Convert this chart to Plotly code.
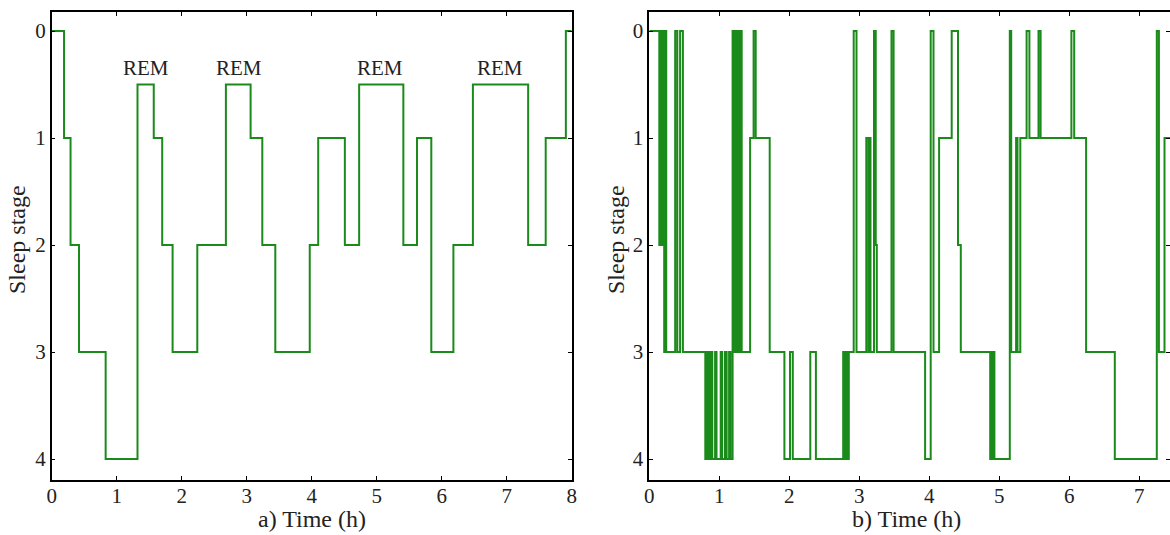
import plotly.graph_objects as go

# ---------------- data ----------------
# Panel a) : transition times (h) and stage entered at that time (REM drawn at 0.5)
a_time = [0, 0.19, 0.29, 0.42, 0.83, 1.32, 1.57, 1.70, 1.86, 2.24, 2.68, 3.06, 3.24, 3.44,
          3.97, 4.10, 4.51, 4.73, 5.41, 5.62, 5.84, 6.18, 6.48, 7.33, 7.60, 7.91, 8.0]
a_stage = [0, 1, 2, 3, 4, 0.5, 1, 2, 3, 2, 0.5, 1, 2, 3,
           2, 1, 2, 0.5, 2, 1, 3, 2, 0.5, 2, 1, 0, 0]

rem_time = [1.45, 2.88, 5.05, 6.90]
rem_label = ["REM", "REM", "REM", "REM"]

# Panel b) : transition times (h) and stage entered
b_time = [0, 0.143, 0.150, 0.157, 0.164, 0.171, 0.178, 0.185, 0.192, 0.199, 0.206,
          0.213, 0.220, 0.228, 0.235, 0.242,
          0.37, 0.40, 0.44, 0.48,
          0.80, 0.81, 0.82, 0.83, 0.84, 0.85, 0.86, 0.87, 0.88, 0.89, 0.90,
          0.94, 0.96, 1.02, 1.04, 1.08, 1.105, 1.14, 1.16,
          1.19, 1.20, 1.205, 1.215, 1.22, 1.23, 1.235, 1.245, 1.25, 1.255, 1.265, 1.275,
          1.28, 1.29, 1.30, 1.32,
          1.44, 1.49, 1.52, 1.72, 1.93, 2.01, 2.05, 2.30, 2.38,
          2.77, 2.78, 2.79, 2.80, 2.81, 2.82, 2.83, 2.84, 2.85,
          2.92, 2.96, 3.10, 3.13, 3.14, 3.16, 3.21, 3.235, 3.25,
          3.46, 3.49, 3.94, 4.02, 4.06, 4.14, 4.32, 4.41, 4.45,
          4.87, 4.88, 4.89, 4.90, 4.91, 4.92, 4.93,
          5.15, 5.17, 5.24, 5.26, 5.30,
          5.39, 5.43, 5.56, 5.59, 6.03, 6.07, 6.24, 6.65, 7.25, 7.28, 7.36, 7.44]
b_stage = [0, 2, 0, 2, 0, 2, 0, 2, 0, 2, 0,
           3, 0, 3, 0, 3,
           0, 3, 0, 3,
           4, 3, 4, 3, 4, 3, 4, 3, 4, 3, 4,
           3, 4, 3, 4, 3, 4, 3, 4,
           0, 3, 0, 3, 0, 3, 0, 3, 0, 2, 0, 3,
           0, 3, 0, 3,
           1, 0, 1, 3, 4, 3, 4, 3, 4,
           3, 4, 3, 4, 3, 4, 3, 4, 3,
           0, 3, 1, 3, 1, 3, 0, 2, 3,
           0, 3, 4, 0, 3, 1, 0, 2, 3,
           4, 3, 4, 3, 4, 3, 4,
           0, 3, 1, 3, 1,
           0, 1, 0, 1, 0, 1, 3, 4, 0, 3, 1, 1]

a_xticks = [0, 1, 2, 3, 4, 5, 6, 7, 8]
b_xticks = [0, 1, 2, 3, 4, 5, 6, 7]
y_ticks = [0, 1, 2, 3, 4]

# ---------------- figure ----------------
W, H = 1170, 535
GREEN = "#1a8a1a"
FONT = "Liberation Serif, Times New Roman, serif"
TXT = "#222222"

fig = go.Figure()
fig.add_trace(go.Scatter(x=a_time, y=a_stage, mode="lines", line=dict(color=GREEN, width=2, shape="hv"),
                         xaxis="x", yaxis="y", showlegend=False, hoverinfo="skip"))
fig.add_trace(go.Scatter(x=b_time, y=b_stage, mode="lines", line=dict(color=GREEN, width=2, shape="hv"),
                         xaxis="x2", yaxis="y2", showlegend=False, hoverinfo="skip"))

def px_x(p):
    return p / W

def px_y(p):
    return 1 - p / H

ydom = [px_y(480), px_y(12)]
axis_common = dict(showline=True, linecolor="black", linewidth=1.5, mirror="ticks",
                   ticks="inside", ticklen=4, tickwidth=1, tickcolor="black",
                   showgrid=False, zeroline=False, automargin=False,
                   tickfont=dict(family=FONT, size=21, color=TXT))

fig.update_layout(
    width=W, height=H, margin=dict(l=0, r=0, t=0, b=0, autoexpand=False),
    paper_bgcolor="white", plot_bgcolor="white",
    xaxis=dict(domain=[px_x(51.7), px_x(571.7)], range=[0, 8], tickvals=a_xticks,
               anchor="y", ticklabelstandoff=-4, **axis_common),
    yaxis=dict(domain=ydom, range=[4.196, -0.178], tickvals=y_ticks, anchor="x",
               ticklabelstandoff=0, **axis_common),
    xaxis2=dict(domain=[px_x(649.3), 1.0], range=[0, (W - 649.3) / 70.0], tickvals=b_xticks,
                anchor="y2", ticklabelstandoff=-4, **axis_common),
    yaxis2=dict(domain=ydom, range=[4.196, -0.178], tickvals=y_ticks, anchor="x2",
                ticklabelstandoff=0, **axis_common),
)

for t, lab in zip(rem_time, rem_label):
    fig.add_annotation(x=t, y=0.35, xref="x", yref="y", text=lab, showarrow=False,
                       xanchor="center", yanchor="middle",
                       font=dict(family=FONT, size=21, color=TXT))

titles = [("a) Time (h)", 311.7, 519, 0), ("b) Time (h)", 906, 519, 0),
          ("Sleep stage", 17, 240, -90), ("Sleep stage", 616, 240, -90)]
for txt, px, py, ang in titles:
    fig.add_annotation(x=px_x(px), y=px_y(py), xref="paper", yref="paper", text=txt,
                       textangle=ang, showarrow=False, xanchor="center", yanchor="middle",
                       font=dict(family=FONT, size=24, color=TXT))

fig.write_html("out.html")
